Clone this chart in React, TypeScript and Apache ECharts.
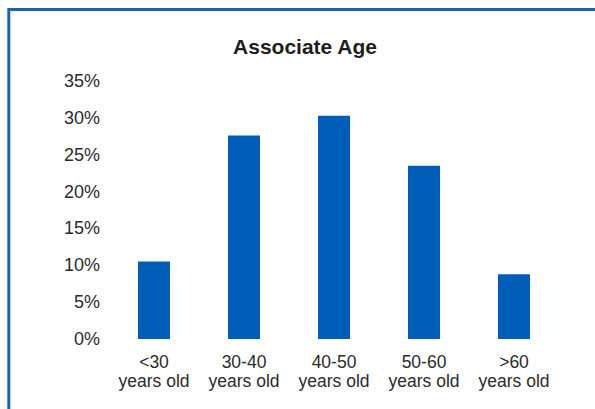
import React, { useEffect, useRef } from "react";
import * as echarts from "echarts";

// Share of associates in each age band (percent)
const ageBands = ["<30", "30-40", "40-50", "50-60", ">60"];
const bandSuffix = "years old";
const sharePercent = [10.5, 27.6, 30.3, 23.5, 8.8];
const yTicks = { min: 0, max: 35, interval: 5 };
const chartTitle = "Associate Age";

const BAR_BLUE = "#005EB8";
const FRAME_BLUE = "#1761B7";
const TEXT = "#2B2B2B";
const FONT = "'Liberation Sans', Arial, sans-serif";

export default function App() {
  const ref = useRef<HTMLDivElement>(null);

  useEffect(() => {
    if (!ref.current) return;
    const chart = echarts.init(ref.current, null, { renderer: "svg" });
    chart.setOption({
      animation: false,
      backgroundColor: "#ffffff",
      textStyle: { fontFamily: FONT },
      title: {
        text: chartTitle,
        left: 300,
        textAlign: "center",
        top: 31,
        textStyle: {
          fontFamily: FONT,
          fontSize: 21,
          fontWeight: "bold",
          color: "#1E1E1E",
        },
      },
      grid: { left: 109, right: 36, top: 81, bottom: 70 },
      xAxis: {
        type: "category",
        data: ageBands.map((b) => `${b}\n${bandSuffix}`),
        axisLine: { show: false },
        axisTick: { show: false },
        axisLabel: {
          margin: 14,
          fontFamily: FONT,
          fontSize: 17.5,
          lineHeight: 18.5,
          color: TEXT,
          interval: 0,
        },
      },
      yAxis: {
        type: "value",
        min: yTicks.min,
        max: yTicks.max,
        interval: yTicks.interval,
        splitLine: { show: false },
        axisLine: { show: false },
        axisTick: { show: false },
        axisLabel: {
          formatter: "{value}%",
          margin: 9,
          fontFamily: FONT,
          fontSize: 18,
          color: TEXT,
        },
      },
      series: [
        {
          type: "bar",
          data: sharePercent,
          barWidth: 32,
          itemStyle: { color: BAR_BLUE },
        },
      ],
      graphic: [
        {
          type: "polyline",
          z: 100,
          shape: {
            points: [
              [8.8, 409],
              [8.8, 9.5],
              [595, 9.5],
            ],
          },
          style: { stroke: FRAME_BLUE, lineWidth: 3, fill: "none" },
        },
      ],
    });
    return () => chart.dispose();
  }, []);

  return (
    <div
      ref={ref}
      style={{ position: "absolute", left: 0, top: 0, width: 595, height: 409 }}
    />
  );
}
